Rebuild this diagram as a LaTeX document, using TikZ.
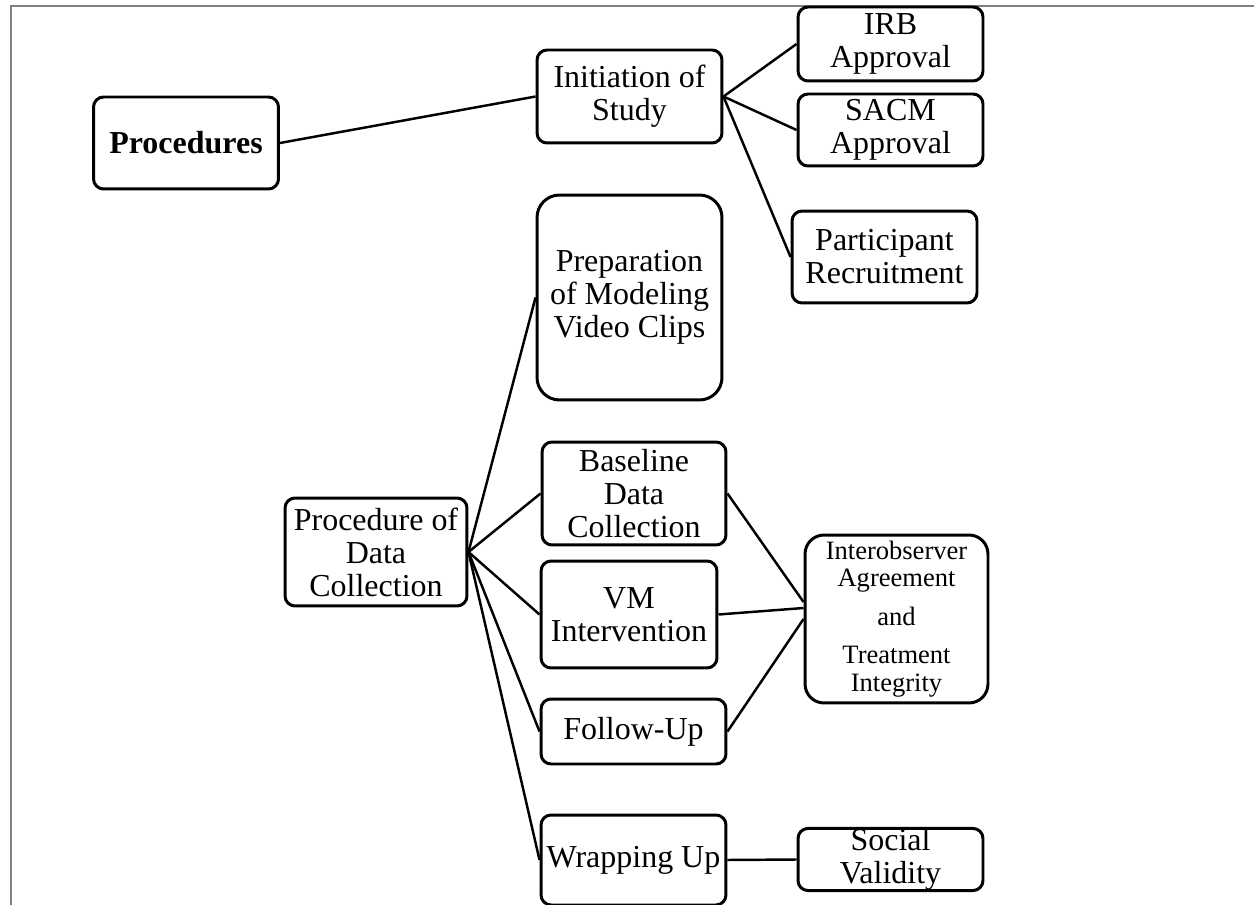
\documentclass[tikz,border=0pt]{standalone}
\usepackage{fontspec}
\setmainfont{Liberation Serif}
\usepackage{tikz}
\usetikzlibrary{shapes,calc}

\tikzset{
  box/.style={shape=rectangle,draw=black,line width=1.7pt,rounded corners=0.2cm,
    align=center,inner sep=0pt,minimum width=3.7cm,
    font=\fontsize{18.2}{18.8}\selectfont},
  link/.style={draw=black,line width=1.4pt},
}

\begin{document}
\begin{tikzpicture}[x=0.02cm,y=-0.02cm]
\useasboundingbox (0,0) rectangle (1254,905);
\draw[black!50,line width=1.4pt] (1254,6) -- (11,6) -- (11,905);

\node[box,minimum height=1.84cm,font=\fontsize{18.2}{18.8}\selectfont\bfseries](Proc) at (186,143) {Procedures};
\node[box,minimum height=1.86cm](Init) at (629.5,96.5) {Initiation of\\Study};
\node[box,minimum height=1.48cm](IRB) at (890.5,44) {IRB\\Approval};
\node[box,minimum height=1.44cm](SACM) at (890.5,130) {SACM\\Approval};
\node[box,minimum height=1.84cm](Recruit) at (884.5,257) {Participant\\Recruitment};
\node[box,minimum height=4.1cm,rounded corners=0.45cm](Prep) at (629.5,297.5) {Preparation\\of Modeling\\Video Clips};
\node[box,minimum width=3.64cm,minimum height=2.16cm](PDC) at (376,552) {Procedure of\\Data\\Collection};
\node[box,minimum width=3.68cm,minimum height=2.06cm](Base) at (634,493.5) {Baseline\\Data\\Collection};
\node[box,minimum width=3.52cm,minimum height=2.14cm](VM) at (629,614.5) {VM\\Intervention};
\node[box,minimum height=1.3cm](Follow) at (633.5,731.5) {Follow-Up};
\node[box,minimum height=1.8cm](Wrap) at (633.5,860) {Wrapping Up};
\node[box,minimum width=3.66cm,minimum height=3.36cm,rounded corners=0.38cm,
  font=\fontsize{15.1}{15.6}\selectfont](IOA) at (896.5,619)
  {Interobserver\\Agreement\\[0.22cm]and\\[0.22cm]Treatment\\Integrity};
\node[box,minimum height=1.22cm](Social) at (890.5,859.5) {Social\\Validity};

\path[link] (Proc.east) edge (Init.west);
\path[link] (Init.east) edge (IRB.west);
\path[link] (Init.east) edge (SACM.west);
\path[link] (Init.east) edge (Recruit.west);
\path[link] (PDC.east) edge (Prep.west);
\path[link] (PDC.east) edge (Base.west);
\path[link] (PDC.east) edge (VM.west);
\path[link] (PDC.east) edge (Follow.west);
\path[link] (PDC.east) edge (Wrap.west);
\path[link] (Base.east) edge ([yshift=0.34cm]IOA.west);
\path[link] (VM.east) edge ([yshift=0.22cm]IOA.west);
\path[link] (Follow.east) edge (IOA.west);
\path[link] (Wrap.east) edge (Social.west);
\end{tikzpicture}
\end{document}
